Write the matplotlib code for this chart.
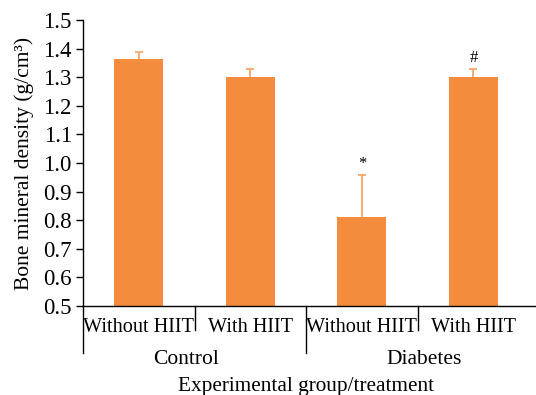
import matplotlib.pyplot as plt
import matplotlib.transforms as mtransforms

plt.rcParams["font.family"] = ["Liberation Serif", "DejaVu Serif"]

# bone mineral density per group (mean, upper SD)
groups     = ["Control", "Diabetes"]
treatments = ["Without HIIT", "With HIIT", "Without HIIT", "With HIIT"]
bmd        = [1.364, 1.300, 0.812, 1.300]
bmd_sd     = [0.025, 0.030, 0.145, 0.030]
marks      = ["", "", "*", "#"]

bar_color = "#F48C3E"
err_color = "#F7A76C"

fig = plt.figure(figsize=(5.36, 3.95), dpi=100)
ax = fig.add_axes([83 / 536, 1 - 306 / 395, 1 - 83 / 536, 286 / 395])

x = list(range(len(bmd)))
ax.bar(x, bmd, width=0.44, color=bar_color, zorder=2)
_, caps, _ = ax.errorbar(x, bmd, yerr=[[0] * len(bmd), bmd_sd], fmt="none",
                         ecolor=err_color, elinewidth=1.3, capsize=2.6,
                         capthick=1.3, zorder=1)
caps[0].set_visible(False)  # only the upper whisker is shown

for xi, v, e, m in zip(x, bmd, bmd_sd, marks):
    if m:
        ax.text(xi + 0.01, v + e + 0.01, m, ha="center", va="bottom", fontsize=12)

ax.set_ylim(0.5, 1.5)
ax.set_xlim(-0.5, -0.5 + (536 - 83) / 111.5)
ax.set_yticks([0.5 + 0.1 * i for i in range(11)])
ax.set_yticklabels([f"{0.5 + 0.1 * i:.1f}" for i in range(11)], fontsize=16.5)
ax.tick_params(axis="y", direction="out", length=5, width=1, pad=3)
ax.set_xticks([])
ax.spines["top"].set_visible(False)
ax.spines["right"].set_visible(False)
ax.spines["left"].set_linewidth(1)
ax.spines["bottom"].set_linewidth(1)

ax.set_ylabel("Bone mineral density (g/cm³)", fontsize=15.5, labelpad=7)

# two-level category axis drawn below the plot
trans = mtransforms.blended_transform_factory(ax.transData, ax.transAxes)
px = 1 / 286
for xd, depth in [(-0.5, 47), (0.5, 24), (1.5, 47), (2.5, 24)]:
    ax.plot([xd, xd], [0, -depth * px], transform=trans, color="black",
            lw=1, clip_on=False)

for xi, lab in zip(x, treatments):
    ax.text(xi, -21 * px, lab, transform=trans, ha="center", va="center",
            fontsize=14.6)

for xg, lab in zip([0.42, 2.56], groups):
    ax.text(xg, -54 * px, lab, transform=trans, ha="center", va="center",
            fontsize=15.5)

ax.text(1.5, -80 * px, "Experimental group/treatment", transform=trans,
        ha="center", va="center", fontsize=15.3)

fig.savefig("out.png", dpi=100)
